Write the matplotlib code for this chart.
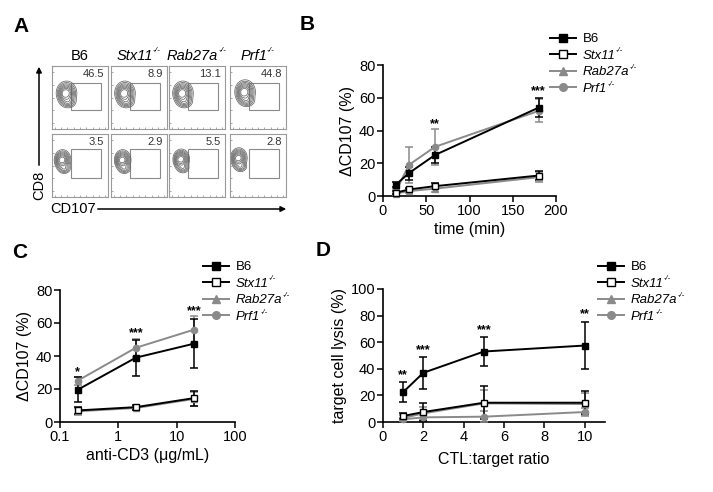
import matplotlib
matplotlib.use("Agg")
import matplotlib.pyplot as plt
import numpy as np
from matplotlib.lines import Line2D
from matplotlib.patches import Rectangle, FancyArrowPatch

plt.rcParams["font.family"] = ["Liberation Sans", "DejaVu Sans"]

# ---- data ----
genotypes = ["B6", "Stx11", "Rab27a", "Prf1"]
knockout = [False, True, True, True]
facs_top_pct = ["46.5", "8.9", "13.1", "44.8"]
facs_bottom_pct = ["3.5", "2.9", "5.5", "2.8"]
blob_x_top = [0.26, 0.25, 0.25, 0.27]
blob_y_top = [0.57, 0.57, 0.57, 0.59]
blob_x_bottom = [0.19, 0.21, 0.22, 0.16]
blob_y_bottom = [0.59, 0.59, 0.60, 0.62]

b_time = [15, 30, 60, 180]
b_mean = {"B6": [7, 14, 25, 54], "Stx11": [2, 4, 6, 12.5],
          "Rab27a": [1.5, 3, 4.5, 11.5], "Prf1": [3, 19, 30, 52]}
b_err = {"B6": [1.5, 4, 5, 6], "Stx11": [1, 1, 2, 3],
         "Rab27a": [1, 1, 2, 3], "Prf1": [1.5, 11, 11, 7]}
b_star_x = [60, 180]
b_star_y = [44, 64]
b_star_txt = ["**", "***"]

c_dose = [0.2, 2, 20]
c_mean = {"B6": [19.5, 39, 47.5], "Stx11": [7, 9, 14.5],
          "Rab27a": [6.5, 8.5, 14], "Prf1": [25, 45, 56]}
c_err = {"B6": [7.5, 11, 15], "Stx11": [2, 1.5, 4.5],
         "Rab27a": [2, 1.5, 4], "Prf1": [2.5, 5.5, 8]}
c_star_x = [0.2, 2, 20]
c_star_y = [30, 54, 67]
c_star_txt = ["*", "***", "***"]

d_ratio = [1, 2, 5, 10]
d_mean = {"B6": [22.5, 37, 53, 57.5], "Stx11": [4.5, 7.5, 14.5, 14.5],
          "Rab27a": [3, 6.5, 14, 13.5], "Prf1": [2, 3.5, 4, 7.5]}
d_err = {"B6": [7.5, 12, 11, 17.5], "Stx11": [2.5, 6.5, 12.5, 8.5],
         "Rab27a": [2, 5, 10, 8], "Prf1": [1, 2, 4, 3]}
d_star_x = [1, 2, 5, 10]
d_star_y = [35, 54, 69, 81]
d_star_txt = ["**", "***", "***", "**"]

GRAY = "#8a8a8a"
STYLE = {
    "B6": dict(color="black", marker="s", mfc="black", mec="black"),
    "Stx11": dict(color="black", marker="s", mfc="white", mec="black"),
    "Rab27a": dict(color=GRAY, marker="^", mfc=GRAY, mec=GRAY),
    "Prf1": dict(color=GRAY, marker="o", mfc=GRAY, mec=GRAY),
}

W, H = 713, 492
fig = plt.figure(figsize=(W / 100, H / 100), dpi=100)


def px_axes(left, top, right, bottom):
    return fig.add_axes([left / W, 1 - bottom / H, (right - left) / W, (bottom - top) / H])


def add_sup(ax, txt, size):
    # small italic "-/-" superscript attached to the right top of a text artist
    ax.annotate("-/-", xy=(1.0, 0.62), xycoords=txt, fontsize=size, style="italic",
                ha="left", va="bottom", annotation_clip=False, zorder=10)


def style_axes(ax):
    for s in ["top", "right"]:
        ax.spines[s].set_visible(False)
    for s in ["left", "bottom"]:
        ax.spines[s].set_linewidth(1.2)
    ax.tick_params(direction="out", length=4, width=1.1, labelsize=10.5, pad=1.5)


def draw_series(ax, x, means, errs, order=("Rab27a", "Prf1", "Stx11", "B6")):
    for g in order:
        st = STYLE[g]
        ax.errorbar(x, means[g], yerr=errs[g], color=st["color"], marker=st["marker"],
                    mfc=st["mfc"], mec=st["mec"], ms=4.5, lw=1.4, elinewidth=1.1,
                    capsize=3, capthick=1.1, clip_on=False, zorder=3)


def add_legend(ax, x_px, y_px):
    handles = [Line2D([], [], color=STYLE[g]["color"], marker=STYLE[g]["marker"],
                      mfc=STYLE[g]["mfc"], mec=STYLE[g]["mec"], ms=5.5, lw=1.4)
               for g in genotypes]
    leg = ax.legend(handles, genotypes, loc="upper left",
                    bbox_to_anchor=(x_px / W, 1 - y_px / H), bbox_transform=fig.transFigure,
                    frameon=False, fontsize=9.5, handlelength=2.0, handletextpad=0.5,
                    labelspacing=0.33, borderpad=0, borderaxespad=0)
    for t, ko in zip(leg.get_texts(), knockout):
        if ko:
            t.set_style("italic")
            add_sup(ax, t, 5.5)


def add_stars(ax, xs, ys, txts):
    for x, y, t in zip(xs, ys, txts):
        ax.text(x, y, t, ha="center", va="center", fontsize=9, fontweight="bold")


# ---- panel A: flow plots ----
col_left = [52, 111, 169, 230]
row_top = [66, 134]
box_w, box_h = 56, 63
gx = np.linspace(0, 1, 200)
GX, GY = np.meshgrid(gx, gx)
levels = [0.05, 0.1, 0.17, 0.26, 0.37, 0.5, 0.65, 0.82]

for r, (pcts, bxs, bys) in enumerate([(facs_top_pct, blob_x_top, blob_y_top),
                                      (facs_bottom_pct, blob_x_bottom, blob_y_bottom)]):
    for c in range(4):
        ax = px_axes(col_left[c], row_top[r], col_left[c] + box_w, row_top[r] + box_h)
        ax.set_xlim(0, 1)
        ax.set_ylim(0, 1)
        sx = 0.075 if r == 0 else 0.06
        sy = 0.078 if r == 0 else 0.066
        cx, cy = bxs[c], bys[c]
        dens = np.exp(-((GX - cx) / sx) ** 2 / 2 - ((GY - cy) / sy) ** 2 / 2)
        dens += 0.3 * np.exp(-((GX - cx - 0.03) / (sx * 0.9)) ** 2 / 2
                             - ((GY - cy + 0.14) / (sy * 0.6)) ** 2 / 2)
        dens += 0.25 * np.exp(-((GX - cx + 0.07) / (sx * 0.5)) ** 2 / 2
                              - ((GY - cy + 0.02) / (sy * 0.8)) ** 2 / 2)
        ax.contour(GX, GY, dens, levels=levels, colors="#666666", linewidths=0.55)
        gate_y0 = 0.30
        gate_y1 = 0.73 if r == 0 else 0.76
        ax.add_patch(Rectangle((0.34, gate_y0), 0.53, gate_y1 - gate_y0, fill=False,
                               ec="#8a8a8a", lw=0.8))
        ax.text(0.93, 0.88, pcts[c], ha="right", va="center", fontsize=8, color="#333333")
        for s in ax.spines.values():
            s.set_color("#9a9a9a")
            s.set_linewidth(0.8)
        ax.set_xticks(np.linspace(0.05, 0.95, 9))
        ax.set_yticks(np.linspace(0.1, 0.9, 5))
        ax.tick_params(length=1.5, width=0.6, color="#9a9a9a", direction="in",
                       labelbottom=False, labelleft=False)
        if r == 0:
            shift = 0.0 if not knockout[c] else -0.08
            t = ax.text(0.5 + shift, 1.05, genotypes[c], ha="center", va="bottom",
                        fontsize=10.5, style="italic" if knockout[c] else "normal")
            if knockout[c]:
                add_sup(ax, t, 6)

fig.patches.append(FancyArrowPatch((39 / W, 1 - 168 / H), (39 / W, 1 - 64 / H),
                                   transform=fig.transFigure, arrowstyle="-|>",
                                   mutation_scale=8, lw=1.1, color="black"))
fig.text(39 / W, 1 - 185 / H, "CD8", rotation=90, ha="center", va="center", fontsize=10.5)
fig.patches.append(FancyArrowPatch((95 / W, 1 - 209 / H), (289 / W, 1 - 209 / H),
                                   transform=fig.transFigure, arrowstyle="-|>",
                                   mutation_scale=8, lw=1.1, color="black"))
fig.text(50 / W, 1 - 209 / H, "CD107", ha="left", va="center", fontsize=10.5)

# ---- panel B ----
axb = px_axes(383, 65, 556, 196)
style_axes(axb)
draw_series(axb, b_time, b_mean, b_err)
axb.set_xlim(0, 200)
axb.set_ylim(0, 80)
axb.set_xticks([0, 50, 100, 150, 200])
axb.set_yticks([0, 20, 40, 60, 80])
axb.set_xlabel("time (min)", fontsize=11.5, labelpad=3)
axb.set_ylabel("ΔCD107 (%)", fontsize=11.5, labelpad=3)
add_stars(axb, b_star_x, b_star_y, b_star_txt)
add_legend(axb, 550, 33)

# ---- panel C ----
axc = px_axes(60, 290, 235, 422)
style_axes(axc)
axc.set_xscale("log")
draw_series(axc, c_dose, c_mean, c_err)
axc.set_xlim(0.1, 100)
axc.set_ylim(0, 80)
axc.set_xticks([0.1, 1, 10, 100])
axc.set_xticklabels(["0.1", "1", "10", "100"])
axc.minorticks_off()
axc.set_yticks([0, 20, 40, 60, 80])
axc.set_xlabel("anti-CD3 (μg/mL)", fontsize=11.5, labelpad=3)
axc.set_ylabel("ΔCD107 (%)", fontsize=11.5, labelpad=3)
add_stars(axc, c_star_x, c_star_y, c_star_txt)
add_legend(axc, 203, 261)

# ---- panel D ----
axd = px_axes(383, 289, 605, 422)
style_axes(axd)
draw_series(axd, d_ratio, d_mean, d_err)
axd.set_xlim(0, 11)
axd.set_ylim(0, 100)
axd.set_xticks([0, 2, 4, 6, 8, 10])
axd.set_yticks([0, 20, 40, 60, 80, 100])
axd.set_xlabel("CTL:target ratio", fontsize=11.5, labelpad=6)
axd.set_ylabel("target cell lysis (%)", fontsize=11.5, labelpad=3)
add_stars(axd, d_star_x, d_star_y, d_star_txt)
add_legend(axd, 598, 261)

# panel letters
for letter, (x, y) in {"A": (21, 26), "B": (307, 25), "C": (20, 252), "D": (323, 251)}.items():
    fig.text(x / W, 1 - y / H, letter, fontsize=15, fontweight="bold", ha="center", va="center")

fig.savefig("out.png", dpi=100)
